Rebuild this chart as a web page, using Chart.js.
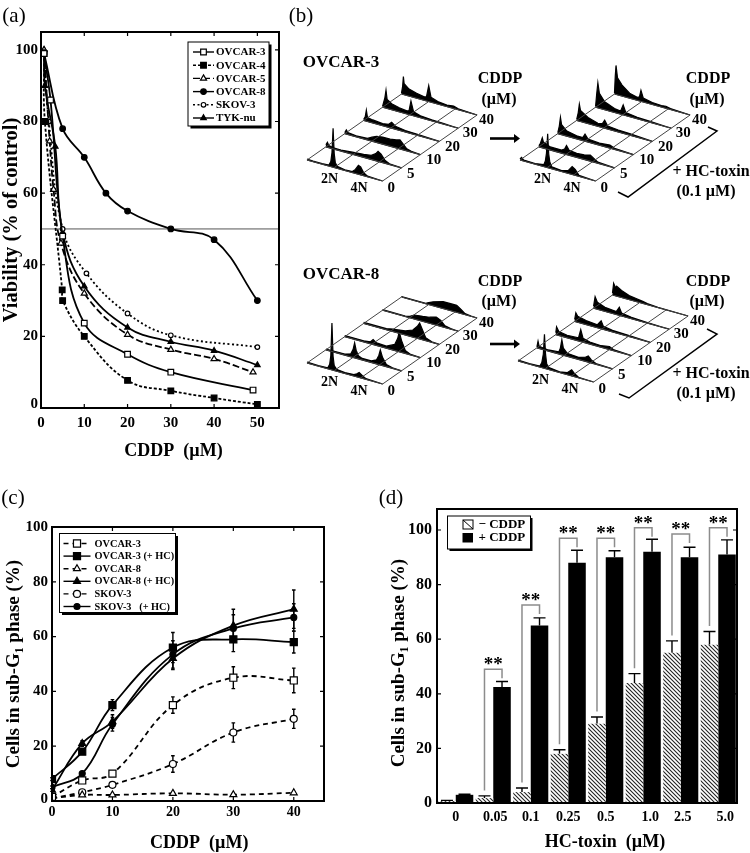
<!DOCTYPE html>
<html>
<head>
<meta charset="utf-8">
<title>CDDP and HC-toxin</title>
<script src="https://cdn.jsdelivr.net/npm/chart.js@4"></script>
<style>
body { margin: 0; background: #fff; }
#page { position: relative; width: 750px; height: 853px; overflow: hidden; }
canvas { position: absolute; }
svg { position: absolute; left: 0; top: 0; }
.t { position: absolute; transform: translate(-50%, -50%); white-space: nowrap; font: bold 16px "Liberation Serif"; color: #000; }
.h { font-size: 17px; }
.p { font: 21px "Liberation Serif"; }
</style>
</head>
<body>
<div id="page">
  <canvas id="chartA" style="left:0;top:0"></canvas>
  <canvas id="chartC" style="left:0;top:480px"></canvas>
  <canvas id="chartD" style="left:380px;top:480px"></canvas>
  <canvas id="hist3" style="left:297px;top:55px"></canvas>
  <canvas id="hist3hc" style="left:510px;top:55px"></canvas>
  <canvas id="hist8" style="left:297px;top:258px"></canvas>
  <canvas id="hist8hc" style="left:508px;top:256px"></canvas>

  <svg width="750" height="853">
    <g fill="none" stroke="#000" stroke-width="1.5">
      <polyline points="708,127 717,131 628,197 618,192"/>
      <polyline points="707,329 717,334 629,398 619,394"/>
    </g>
    <g stroke="#000" stroke-width="2.6">
      <line x1="490" y1="138.5" x2="516" y2="138.5"/>
      <line x1="490" y1="344" x2="516" y2="344"/>
    </g>
    <polygon points="514,134 520,138.5 514,143"/>
    <polygon points="514,339.5 520,344 514,348.5"/>
  </svg>

  <div class="t p" style="left:14px;top:15px">(a)</div>
  <div class="t p" style="left:301px;top:15px">(b)</div>
  <div class="t p" style="left:13px;top:497px">(c)</div>
  <div class="t p" style="left:391px;top:497px">(d)</div>

  <div class="t h" style="left:341px;top:62px">OVCAR-3</div>
  <div class="t h" style="left:341px;top:274px">OVCAR-8</div>
  <div class="t" style="left:500px;top:78px">CDDP</div>
  <div class="t" style="left:499px;top:99px">(µM)</div>
  <div class="t" style="left:708px;top:78px">CDDP</div>
  <div class="t" style="left:707px;top:99px">(µM)</div>
  <div class="t" style="left:500px;top:281px">CDDP</div>
  <div class="t" style="left:499px;top:301px">(µM)</div>
  <div class="t" style="left:708px;top:281px">CDDP</div>
  <div class="t" style="left:707px;top:301px">(µM)</div>
  <div class="t" style="left:711px;top:171px">+ HC-toxin</div>
  <div class="t" style="left:706px;top:191px">(0.1 µM)</div>
  <div class="t" style="left:711px;top:373px">+ HC-toxin</div>
  <div class="t" style="left:706px;top:393px">(0.1 µM)</div>
</div>

<script>
// (a) viability
const a3x = [0.7, 2.2, 5, 10, 20, 30, 49];
const a3y = [99, 86, 48, 23.7, 15, 10, 5];
const a4x = [0.7, 0.9, 4.9, 5, 10, 20, 30, 40, 50];
const a4y = [99, 80, 33, 30, 20, 7.7, 4.8, 2.8, 1];
const a5x = [0.7, 2, 2.9, 4.6, 10, 20, 30, 40, 49];
const a5y = [100, 74.5, 61, 46, 32, 20.5, 16.3, 13.7, 10];
const a8x = [0.7, 5, 10, 15, 20, 30, 40, 50];
const a8y = [99, 78, 70, 60, 55, 50, 47, 30];
const askx = [0.7, 1.8, 5, 10.5, 20, 30, 50];
const asky = [99, 80, 50, 37.6, 26.4, 20.3, 17];
const atyx = [0.7, 0.9, 3.3, 5, 10, 20, 30, 40, 50];
const atyy = [100, 90, 73, 49, 34, 22.5, 18.5, 16, 12];

// (c) sub-G1
const cDose = [0, 5, 10, 20, 30, 40];
const c3 = [1.5, 7.5, 10, 35, 45, 44];
const c3err = [0, 0.4, 0.4, 3, 4, 4.5];
const c3hc = [8, 18, 35, 56, 59, 58];
const c3hcErr = [0.5, 1, 2, 5.5, 4.5, 4];
const c8 = [1, 2.2, 2.2, 2.8, 2.3, 3];
const c8err = [0, 0, 0, 0.3, 0.3, 0.3];
const c8hc = [4, 21, 29, 52, 64, 70];
const c8hcErr = [0.5, 1, 2.5, 4, 6, 7];
const csk = [1, 3.2, 5.9, 13.5, 25, 30];
const cskErr = [0, 0.3, 0.4, 3, 3.5, 3.5];
const cskhc = [5, 10, 28, 53.5, 63, 67];
const cskhcErr = [0.5, 0.5, 2.5, 5, 5, 5];

// (d) HC-toxin
const dCats = ['0', '0.05', '0.1', '0.25', '0.5', '1.0', '2.5', '5.0'];
const dMinus = [0.7, 1.8, 4, 18, 29, 44, 55, 58];
const dMinusErr = [0.2, 0.8, 1.5, 1.5, 2.5, 3.4, 4.4, 4.8];
const dPlus = [3, 42.5, 65, 88, 90, 92, 90, 91];
const dPlusErr = [0.2, 2, 2.8, 4.6, 2.4, 4.6, 3.7, 5.4];
const dBracket = [null, 49, 72.5, 97, 97, 100.8, 98.5, 100.8];

// (b) flow histograms, one list per dose, [channel, height]
const doseLabels = ['0', '5', '10', '20', '30', '40'];
const hist3Rows = [
  [[0,1],[8,.5],[20,.5],[29,1],[31.5,5],[33,14],[34.5,39],[36,14],[37.5,5],[40,2],[50,.7],[60,1],[64,4],[68,9],[71,8],[75,3],[80,.7],[100,0]],
  [[0,2],[2,5],[4,2],[10,1],[20,1],[35,2],[50,3],[60,4],[66,7],[69,10],[73,8],[78,3],[84,.7],[100,0]],
  [[0,1],[2,4],[4,2],[15,1],[30,1.5],[36,4],[42,6],[50,7],[60,7],[68,8],[73,9],[77,6],[82,2],[88,.7],[100,0]],
  [[0,1],[2,4],[3.5,11],[5,4],[12,3],[25,2],[33,3],[37,6],[42,3],[55,1.5],[70,1],[100,0]],
  [[0,1],[3,10],[4.5,18],[6,9],[12,6],[22,4],[32,3],[35,4],[37.5,14],[41,4],[50,2],[65,1],[80,.7],[100,0]],
  [[0,1],[1.5,8],[2.5,18],[3.5,11],[10,7],[20,5],[30,3.5],[33,4],[36,16],[39,5],[48,2.5],[60,1.5],[69,2.5],[75,1],[100,0]]
];
const hist3hcRows = [
  [[0,1],[2,3],[5,1],[20,.7],[31.5,2],[33.5,6],[35,14],[36.6,34],[38,14],[39.5,6],[42,2],[55,1],[64,3],[69,8],[73,6],[78,1],[100,0]],
  [[0,1],[2,4],[4.5,10],[6,6],[15,3],[30,3],[34,5],[36.5,9],[40,5],[50,4],[60,4.5],[68,6],[72,4],[78,1],[100,0]],
  [[0,1],[2,8],[3.5,17],[5,10],[12,5],[25,3],[33,3],[36,7],[40,3],[55,2],[69,3],[75,1],[100,0]],
  [[0,1],[2,8],[3.5,17],[5,11],[15,6],[28,3],[34,4],[37,8],[41,3],[55,2],[70,1.5],[100,0]],
  [[0,1],[1.5,14],[3,25],[5,15],[12,8],[25,4],[33,3],[36.5,10],[40,3],[55,1.5],[70,1],[100,0]],
  [[0,1],[1,18],[2,29],[4,17],[10,11],[20,5],[30,3],[33,4],[35,11],[38,4],[50,2],[62,1.5],[68,2],[74,1],[100,0]]
];
const hist8Rows = [
  [[0,1],[15,.5],[27.5,1],[30,5],[31.5,14],[33,47],[34.5,14],[36,5],[39,2],[50,1],[62,1.5],[66,3],[69,5],[73,3],[78,.7],[100,0]],
  [[0,.7],[25,1],[33,3],[36,8],[38,15],[40,8],[43,3],[48,1.5],[60,1.5],[67,4],[70,9],[72,15],[75,8],[80,2],[88,.5],[100,0]],
  [[0,1],[25,1],[34,2],[37.5,5],[42,2.5],[55,2],[66,6],[70,13],[72,20],[75,12],[80,3],[87,.5],[100,0]],
  [[0,1],[30,1],[39,2.5],[45,3],[55,4],[65,7],[71,12],[74,16],[77,11],[82,3],[90,.5],[100,0]],
  [[0,.5],[30,.5],[36,1.5],[42,4],[53,5],[62,6],[71,8],[77,6],[82,2],[90,.5],[100,0]],
  [[0,.5],[32,.5],[36,2],[42,4],[55,7],[65,7],[73,7],[79,4],[84,1],[92,.3],[100,0]]
];
const hist8hcRows = [
  [[0,1],[15,.5],[29,1],[31.5,5],[33.5,14],[35,34],[36.5,14],[38,5],[41,2],[55,.7],[65,2],[71,6],[75,3],[80,.5],[100,0]],
  [[0,1],[1.5,7],[3,2],[15,1],[29,2],[31,6],[33,15],[35,7],[40,3],[55,2],[64,4],[68,6],[72,3],[78,.7],[100,0]],
  [[0,2],[1,8],[4,4],[15,2.5],[30,3],[33,12],[36,4],[45,2],[60,1.5],[71,3],[76,1],[100,0]],
  [[0,2],[1.5,9],[4,6],[15,4],[30,3],[35,8],[38,3],[50,1.5],[70,1],[100,0]],
  [[0,2],[2,12],[5,7],[15,4],[30,3],[34,8],[37,3],[50,1.5],[70,.7],[100,0]],
  [[0,2],[1.5,12],[4,8],[5.5,10],[12,7],[22,4],[32,3],[40,2],[46,1],[60,.3],[100,0]]
];
const histGrid = [0, 36, 71, 100];

const serif = '"Liberation Serif"';
Chart.defaults.font.family = serif;
Chart.defaults.color = '#000';
Chart.defaults.animation = false;

function xy(xs, ys) {
  return xs.map((x, i) => ({ x: x, y: ys[i] }));
}

// thick box and inward ticks on all four sides
const framePlugin = {
  id: 'frameBox',
  afterDatasetsDraw(chart, args, o) {
    const { ctx, chartArea: c, scales } = chart;
    ctx.save();
    ctx.strokeStyle = '#000';
    ctx.lineWidth = 1.2;
    ctx.beginPath();
    scales.y.ticks.forEach((t, i) => {
      const y = scales.y.getPixelForTick(i);
      ctx.moveTo(c.left, y); ctx.lineTo(c.left + 4, y);
      ctx.moveTo(c.right, y); ctx.lineTo(c.right - 4, y);
    });
    if (o.xTicks) {
      scales.x.ticks.forEach((t, i) => {
        const x = scales.x.getPixelForTick(i);
        ctx.moveTo(x, c.top); ctx.lineTo(x, c.top + 4);
        ctx.moveTo(x, c.bottom); ctx.lineTo(x, c.bottom - 4);
      });
    }
    ctx.stroke();
    ctx.lineWidth = 2;
    ctx.strokeRect(c.left, c.top, c.right - c.left, c.bottom - c.top);
    ctx.restore();
  }
};

// dataset.err holds the error value of each point
const errorPlugin = {
  id: 'errorBars',
  beforeDatasetsDraw(chart, args, o) {
    const { ctx, scales } = chart;
    ctx.save();
    ctx.strokeStyle = '#000';
    ctx.lineWidth = 1.4;
    chart.data.datasets.forEach((ds, k) => {
      if (!ds.err) return;
      chart.getDatasetMeta(k).data.forEach((el, i) => {
        if (!ds.err[i]) return;
        const v = scales.y.getValueForPixel(el.y);
        const top = scales.y.getPixelForValue(v + ds.err[i]);
        const bot = o.upOnly ? el.y : scales.y.getPixelForValue(v - ds.err[i]);
        ctx.beginPath();
        ctx.moveTo(el.x, top); ctx.lineTo(el.x, bot);
        ctx.moveTo(el.x - o.cap, top); ctx.lineTo(el.x + o.cap, top);
        if (!o.upOnly) { ctx.moveTo(el.x - o.cap, bot); ctx.lineTo(el.x + o.cap, bot); }
        ctx.stroke();
      });
    });
    ctx.restore();
  }
};

// small per-label moves of printed tick labels
const tickShift = {
  id: 'tickShift',
  beforeDraw(chart, args, o) {
    if (chart.$shifted) return;
    chart.$shifted = true;
    chart.scales[o.axis].getLabelItems(chart.chartArea).forEach((it, i) => {
      it.options.translation[0] += (o.dx && o.dx[i]) || 0;
      it.options.translation[1] += (o.dy && o.dy[i]) || 0;
    });
  }
};

// boxed legend with a drop shadow, read from the datasets
const lineLegend = {
  id: 'lineLegend',
  afterDraw(chart, args, o) {
    const ctx = chart.ctx;
    ctx.save();
    ctx.fillStyle = '#000';
    ctx.fillRect(o.x + 2.5, o.y + 2.5, o.w, o.h);
    ctx.fillStyle = '#fff';
    ctx.strokeStyle = '#000';
    ctx.lineWidth = 1;
    ctx.fillRect(o.x, o.y, o.w, o.h);
    ctx.strokeRect(o.x, o.y, o.w, o.h);
    chart.data.datasets.forEach((ds, i) => {
      const y = o.y + o.first + i * o.step;
      const mid = o.x + o.lineX + o.lineW / 2;
      ctx.beginPath();
      ctx.setLineDash(ds.borderDash || []);
      ctx.lineWidth = 1.4;
      ctx.moveTo(o.x + o.lineX, y);
      ctx.lineTo(o.x + o.lineX + o.lineW, y);
      ctx.stroke();
      ctx.setLineDash([]);
      ctx.fillStyle = ds.pointBackgroundColor;
      ctx.lineWidth = 1.2;
      Chart.helpers.drawPoint(ctx, { pointStyle: ds.pointStyle, radius: ds.pointRadius, rotation: 0, borderWidth: 1.2 }, mid, y);
      ctx.fillStyle = '#000';
      ctx.font = 'bold ' + o.size + 'px ' + serif;
      ctx.textBaseline = 'middle';
      ctx.fillText(ds.label, o.x + o.textX, y + 0.5);
    });
    ctx.restore();
  }
};

function lineDs(label, data, style, solidFill, dash, radius, err) {
  return {
    label: label, data: data, err: err,
    borderColor: '#000', borderWidth: 1.8, borderDash: dash,
    pointStyle: style, pointRadius: radius,
    pointBackgroundColor: solidFill ? '#000' : '#fff',
    pointBorderColor: '#000', pointBorderWidth: 1.2,
    tension: 0.4
  };
}

function titleOpt(text, size, pad) {
  return { display: true, text: text, padding: pad, font: { size: size, weight: 'bold', family: serif, lineHeight: 1 } };
}

function tickFont(size) {
  return { size: size, weight: 'bold', family: serif };
}

function sizeCanvas(id, w, h) {
  const el = document.getElementById(id);
  el.width = w;
  el.height = h;
  return el;
}

new Chart(sizeCanvas('chartA', 290, 470), {
  type: 'line',
  data: {
    datasets: [
      lineDs('OVCAR-3', xy(a3x, a3y), 'rect', false, [], 4),
      lineDs('OVCAR-4', xy(a4x, a4y), 'rect', true, [3, 2], 4),
      lineDs('OVCAR-5', xy(a5x, a5y), 'triangle', false, [7, 3], 3.5),
      lineDs('OVCAR-8', xy(a8x, a8y), 'circle', true, [], 2.8),
      lineDs('SKOV-3', xy(askx, asky), 'circle', false, [2, 2.5], 2.3),
      lineDs('TYK-nu', xy(atyx, atyy), 'triangle', true, [], 3.2)
    ]
  },
  options: {
    responsive: false,
    layout: { padding: { top: 32, right: 11 } },
    scales: {
      x: {
        type: 'linear', min: 0, max: 55,
        grid: { display: false, drawTicks: false }, border: { display: false },
        ticks: { stepSize: 10, includeBounds: false, font: tickFont(15), padding: 6, maxRotation: 0 },
        title: titleOpt('      CDDP  (µM)', 18, { top: 0, bottom: 10 }),
        afterFit(s) { s.height = 62; }
      },
      y: {
        min: 0, max: 105,
        grid: { display: false, drawTicks: false }, border: { display: false },
        ticks: { stepSize: 20, includeBounds: false, font: tickFont(15), padding: 3 },
        title: titleOpt('Viability (% of control)', 20.5, { top: 1, bottom: 0 }),
        afterFit(s) { s.width = 41; }
      }
    },
    plugins: {
      legend: { display: false },
      tooltip: { enabled: false },
      frameBox: { xTicks: true },
      tickShift: { axis: 'y', dy: [-4] },
      lineLegend: { x: 188, y: 42, w: 81, h: 84, first: 10, step: 13.2, lineX: 5, lineW: 21, textX: 28, size: 11 }
    }
  },
  plugins: [
    tickShift,
    {
      id: 'fiftyLine',
      beforeDatasetsDraw(chart) {
        const { ctx, chartArea: c, scales } = chart;
        const y = scales.y.getPixelForValue(50);
        ctx.save();
        ctx.strokeStyle = '#555';
        ctx.lineWidth = 1;
        ctx.beginPath();
        ctx.moveTo(c.left, y); ctx.lineTo(c.right, y);
        ctx.stroke();
        ctx.restore();
      }
    },
    framePlugin, lineLegend
  ]
});

new Chart(sizeCanvas('chartC', 350, 373), {
  type: 'line',
  data: {
    datasets: [
      lineDs('OVCAR-3', xy(cDose, c3), 'rect', false, [5, 4], 5, c3err),
      lineDs('OVCAR-3 (+ HC)', xy(cDose, c3hc), 'rect', true, [], 5, c3hcErr),
      lineDs('OVCAR-8', xy(cDose, c8), 'triangle', false, [5, 4], 4, c8err),
      lineDs('OVCAR-8 (+ HC)', xy(cDose, c8hc), 'triangle', true, [], 4, c8hcErr),
      lineDs('SKOV-3', xy(cDose, csk), 'circle', false, [5, 4], 3.5, cskErr),
      lineDs('SKOV-3   (+ HC)', xy(cDose, cskhc), 'circle', true, [], 3, cskhcErr)
    ]
  },
  options: {
    responsive: false,
    layout: { padding: { top: 47, right: 26 } },
    scales: {
      x: {
        type: 'linear', min: 0, max: 45,
        grid: { display: false, drawTicks: false }, border: { display: false },
        ticks: { stepSize: 10, includeBounds: false, font: tickFont(14), padding: 3, maxRotation: 0 },
        title: titleOpt('     CDDP  (µM)', 18, { top: 0, bottom: 1 }),
        afterFit(s) { s.height = 52; }
      },
      y: {
        min: 0, max: 100,
        grid: { display: false, drawTicks: false }, border: { display: false },
        ticks: { stepSize: 20, includeBounds: false, font: tickFont(15), padding: 4 },
        title: titleOpt('Cells in sub-G₁ phase (%)', 19, { top: 5, bottom: 0 }),
        afterFit(s) { s.width = 52; }
      }
    },
    plugins: {
      legend: { display: false },
      tooltip: { enabled: false },
      frameBox: { xTicks: true },
      errorBars: { cap: 1.8, upOnly: false },
      tickShift: { axis: 'y', dy: [-2] },
      lineLegend: { x: 59.5, y: 53.5, w: 116, h: 79, first: 10, step: 12.6, lineX: 4, lineW: 27, textX: 35, size: 10.3 }
    }
  },
  plugins: [tickShift, errorPlugin, framePlugin, lineLegend]
});

// diagonal fill of the - CDDP bars
function hatchFill() {
  const t = document.createElement('canvas');
  t.width = 4;
  t.height = 4;
  const g = t.getContext('2d');
  g.fillStyle = '#fff';
  g.fillRect(0, 0, 4, 4);
  g.strokeStyle = '#222';
  g.lineWidth = 1.1;
  g.beginPath();
  g.moveTo(-1, -1); g.lineTo(5, 5);
  g.moveTo(-1, 3); g.lineTo(1, 5);
  g.moveTo(3, -1); g.lineTo(5, 1);
  g.stroke();
  return g.createPattern(t, 'repeat');
}

// the printed labels of the HC-toxin axis sit a little off the bar groups
const dLabelShift = [0, 2, 0, 0, 0, 7, 2, 7];

new Chart(sizeCanvas('chartD', 370, 373), {
  type: 'bar',
  data: {
    labels: dCats,
    datasets: [
      { label: '− CDDP', data: dMinus, err: dMinusErr, backgroundColor: hatchFill(), categoryPercentage: 0.935, barPercentage: 1 },
      { label: '+ CDDP', data: dPlus, err: dPlusErr, backgroundColor: '#000', categoryPercentage: 0.935, barPercentage: 1 }
    ]
  },
  options: {
    responsive: false,
    layout: { padding: { top: 29, right: 13 } },
    scales: {
      x: {
        grid: { display: false, drawTicks: false }, border: { display: false },
        ticks: { font: tickFont(14), padding: 6, maxRotation: 0, autoSkip: false },
        title: titleOpt('        HC-toxin  (µM)', 18, { top: 0, bottom: 2 }),
        afterFit(s) { s.height = 50; }
      },
      y: {
        min: 0, max: 107.7,
        grid: { display: false, drawTicks: false }, border: { display: false },
        ticks: { stepSize: 20, includeBounds: false, font: tickFont(16), padding: 5 },
        title: titleOpt('Cells in sub-G₁ phase (%)   ', 19, { top: 10, bottom: 0 }),
        afterFit(s) { s.width = 57; }
      }
    },
    plugins: {
      legend: { display: false },
      tooltip: { enabled: false },
      frameBox: { xTicks: false },
      tickShift: { axis: 'x', dx: dLabelShift },
      errorBars: { cap: 6, upOnly: true }
    }
  },
  plugins: [
    tickShift, errorPlugin, framePlugin,
    {
      id: 'dExtras',
      afterDraw(chart) {
        const { ctx, scales } = chart;
        const left = chart.getDatasetMeta(0).data;
        const right = chart.getDatasetMeta(1).data;
        ctx.save();
        // significance brackets
        dBracket.forEach((v, i) => {
          if (v === null) return;
          const top = scales.y.getPixelForValue(v);
          ctx.strokeStyle = '#8c8c8c';
          ctx.lineWidth = 1.5;
          ctx.beginPath();
          ctx.moveTo(left[i].x, scales.y.getPixelForValue(dMinus[i] + dMinusErr[i] + 2));
          ctx.lineTo(left[i].x, top);
          ctx.lineTo(right[i].x, top);
          ctx.lineTo(right[i].x, top + 9);
          ctx.stroke();
          ctx.fillStyle = '#000';
          ctx.font = 'bold 19px ' + serif;
          ctx.textAlign = 'center';
          ctx.textBaseline = 'alphabetic';
          ctx.fillText('**', (left[i].x + right[i].x) / 2, top + 1);
        });
        // legend box
        const x = 67.5, y = 36, w = 83, h = 33;
        ctx.fillStyle = '#000';
        ctx.fillRect(x + 2, y + 2, w, h);
        ctx.fillStyle = '#fff';
        ctx.fillRect(x, y, w, h);
        ctx.strokeStyle = '#000';
        ctx.lineWidth = 1;
        ctx.strokeRect(x, y, w, h);
        ctx.strokeRect(x + 15.5, y + 4, 10, 9);
        ctx.beginPath();
        ctx.moveTo(x + 15.5, y + 4); ctx.lineTo(x + 25.5, y + 13);
        ctx.stroke();
        ctx.fillStyle = '#000';
        ctx.fillRect(x + 15, y + 17, 10.5, 9.5);
        ctx.font = 'bold 13px ' + serif;
        ctx.textBaseline = 'middle';
        ctx.textAlign = 'left';
        ctx.fillText(chart.data.datasets[0].label, x + 31, y + 9);
        ctx.fillText(chart.data.datasets[1].label, x + 31, y + 22);
        ctx.restore();
      }
    }
  ]
});

// oblique view: channel runs along the front edge, dose goes to the back
function project(channel, row, height) {
  return { x: 10 + channel * 0.756 + row * 18.9, y: 35 - channel * 0.21 + row * 13.2 + height };
}

const rowLabelOffset = [[8.7, 7.3], [9.3, 6.7], [13.3, 5.3], [13.3, 5.3], [12, 5], [9.3, 5]];

const histLabels = {
  id: 'histLabels',
  afterDraw(chart) {
    const { ctx, scales } = chart;
    const put = (text, p, dx, dy, size) => {
      ctx.font = 'bold ' + size + 'px ' + serif;
      ctx.fillText(text, scales.x.getPixelForValue(p.x) + dx, scales.y.getPixelForValue(p.y) + dy);
    };
    ctx.save();
    ctx.fillStyle = '#000';
    ctx.textAlign = 'center';
    ctx.textBaseline = 'middle';
    doseLabels.forEach((d, r) => {
      put(d, project(100, r, 0), rowLabelOffset[r][0], rowLabelOffset[r][1], 15);
    });
    put('2N', project(30, 0, -13), 0, 0, 14);
    put('4N', project(69, 0, -14), 0, 0, 14);
    ctx.restore();
  }
};

function histChart(id, rows) {
  const datasets = [];
  rows.forEach((row, r) => {
    datasets.push({
      data: [project(0, r, 0), project(100, r, 0)],
      borderColor: '#444', borderWidth: 1, pointRadius: 0
    });
  });
  histGrid.forEach(ch => {
    datasets.push({
      data: [project(ch, 0, 0), project(ch, 5, 0)],
      borderColor: '#444', borderWidth: 1, pointRadius: 0
    });
  });
  rows.forEach((row, r) => {
    datasets.push({
      label: 'CDDP ' + doseLabels[r],
      data: row.map(p => project(p[0], r, p[1])).concat([project(100, r, 0), project(0, r, 0)]),
      borderColor: '#000', borderWidth: 1.2, backgroundColor: '#000',
      fill: 'shape', pointRadius: 0, tension: 0
    });
  });
  return new Chart(sizeCanvas(id, 215, 140), {
    type: 'line',
    data: { datasets: datasets },
    options: {
      responsive: false,
      scales: {
        x: { type: 'linear', min: 0, max: 215, display: false },
        y: { min: 0, max: 140, display: false }
      },
      plugins: { legend: { display: false }, tooltip: { enabled: false } }
    },
    plugins: [histLabels]
  });
}

histChart('hist3', hist3Rows);
histChart('hist3hc', hist3hcRows);
histChart('hist8', hist8Rows);
histChart('hist8hc', hist8hcRows);
</script>
</body>
</html>
